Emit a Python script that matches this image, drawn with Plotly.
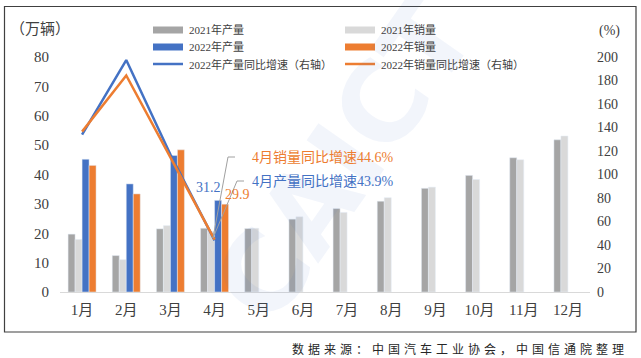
import plotly.graph_objects as go

months = ["1月", "2月", "3月", "4月", "5月", "6月", "7月", "8月", "9月", "10月", "11月", "12月"]
prod_2021 = [19.7, 12.4, 21.5, 21.7, 21.6, 24.8, 28.4, 30.9, 35.3, 39.7, 45.7, 51.8]
sales_2021 = [17.9, 11.0, 22.6, 20.6, 21.7, 25.6, 27.1, 32.1, 35.7, 38.3, 45.0, 53.1]
prod_2022 = [45.2, 36.8, 46.5, 31.2, None, None, None, None, None, None, None, None]
sales_2022 = [43.1, 33.4, 48.4, 29.9, None, None, None, None, None, None, None, None]
prod_growth = [134.0, 197.4, 117.0, 43.9]
sales_growth = [136.5, 184.3, 114.5, 44.6]
left_ticks = [0, 10, 20, 30, 40, 50, 60, 70, 80]
right_ticks = [0, 20, 40, 60, 80, 100, 120, 140, 160, 180, 200]

C_DG = "#a5a5a5"
C_LG = "#d9d9d9"
C_BL = "#4472c4"
C_OR = "#ed7d31"

FONT = "Liberation Serif, Noto Sans CJK SC, serif"
CJK = "Noto Sans CJK SC, sans-serif"

fig = go.Figure()
fig.add_bar(x=months, y=prod_2021, marker_color=C_DG, name="2021年产量")
fig.add_bar(x=months, y=sales_2021, marker_color=C_LG, name="2021年销量")
fig.add_bar(x=months, y=prod_2022, marker_color=C_BL, name="2022年产量")
fig.add_bar(x=months, y=sales_2022, marker_color=C_OR, name="2022年销量")
fig.add_scatter(x=months[:4], y=prod_growth, yaxis="y2", mode="lines",
                line=dict(color=C_BL, width=2.5), name="2022年产量同比增速（右轴）", cliponaxis=False)
fig.add_scatter(x=months[:4], y=sales_growth, yaxis="y2", mode="lines",
                line=dict(color=C_OR, width=2.5), name="2022年销量同比增速（右轴）", cliponaxis=False)

L, R, T, B = 60, 51, 57, 66
W, H = 641, 358
pw, ph = W - L - R, H - T - B

def px(x):
    return (x - L) / pw

def py(y):
    return (H - B - y) / ph

shapes = []
annotations = []

# outer frame
shapes.append(dict(type="rect", xref="paper", yref="paper", x0=px(4.5), x1=px(636), y0=py(332), y1=py(6.5),
                   line=dict(color="#404040", width=1.2), fillcolor="rgba(0,0,0,0)", layer="above"))

# watermark
annotations.append(dict(xref="paper", yref="paper", x=px(185), y=py(160), text="<b>CAICT</b>", showarrow=False,
                        textangle=-55, font=dict(family="DejaVu Sans, sans-serif", size=110, color="rgba(68,114,196,0.07)")))

# custom legend
legend_items = [
    (153, 30, "bar", C_DG, "2021年产量"),
    (153, 47, "bar", C_BL, "2022年产量"),
    (153, 64, "line", C_BL, "2022年产量同比增速（右轴）"),
    (345, 30, "bar", C_LG, "2021年销量"),
    (345, 47, "bar", C_OR, "2022年销量"),
    (345, 64, "line", C_OR, "2022年销量同比增速（右轴）"),
]
for x0, yc, kind, col, label in legend_items:
    if kind == "bar":
        shapes.append(dict(type="rect", xref="paper", yref="paper", x0=px(x0), x1=px(x0 + 30),
                           y0=py(yc + 3.5), y1=py(yc - 3.5), fillcolor=col, line=dict(width=0)))
    else:
        shapes.append(dict(type="line", xref="paper", yref="paper", x0=px(x0), x1=px(x0 + 30),
                           y0=py(yc), y1=py(yc), line=dict(color=col, width=2.5)))
    annotations.append(dict(xref="paper", yref="paper", x=px(x0 + 34), y=py(yc), text=label, showarrow=False,
                            xanchor="left", yanchor="middle", font=dict(family=FONT, size=11, color="#404040")))

# axis titles
annotations.append(dict(xref="paper", yref="paper", x=px(40), y=py(29), text="（万辆）", showarrow=False,
                        xanchor="center", yanchor="middle", font=dict(family=FONT, size=15, color="#404040")))
annotations.append(dict(xref="paper", yref="paper", x=px(609), y=py(31), text="(%)", showarrow=False,
                        xanchor="center", yanchor="middle", font=dict(family=FONT, size=14, color="#404040")))

# data labels for April bars
annotations.append(dict(x="4月", y=prod_2022[3], text=f"{prod_2022[3]}", showarrow=False, xshift=-6, yshift=13,
                        font=dict(family=FONT, size=14, color=C_BL)))
annotations.append(dict(x="4月", y=sales_2022[3], text=f"{sales_2022[3]}", showarrow=False, xshift=23, yshift=10,
                        font=dict(family=FONT, size=14, color=C_OR)))

# callout texts
annotations.append(dict(xref="paper", yref="paper", x=px(250), y=py(157), text=f"4月销量同比增速{sales_growth[3]}%",
                        showarrow=False, xanchor="left", yanchor="middle", font=dict(family=FONT, size=14, color=C_OR)))
annotations.append(dict(xref="paper", yref="paper", x=px(250), y=py(181), text=f"4月产量同比增速{prod_growth[3]}%",
                        showarrow=False, xanchor="left", yanchor="middle", font=dict(family=FONT, size=14, color=C_BL)))
# leader lines
for pts in ([(213, 238), (228, 157), (235, 157)], [(213, 238), (237, 181), (244, 181)]):
    for (xa, ya), (xb, yb) in zip(pts[:-1], pts[1:]):
        shapes.append(dict(type="line", xref="paper", yref="paper", x0=px(xa), y0=py(ya), x1=px(xb), y1=py(yb),
                           line=dict(color="#a0a0a0", width=1)))

# source note
src = "数据来源：中国汽车工业协会，中国信通院整理"
annotations.append(dict(xref="paper", yref="paper", x=px(626), y=py(348), text="\u2004".join(src), showarrow=False,
                        xanchor="right", yanchor="middle", font=dict(family=CJK, size=12, color="#262626")))

fig.update_layout(
    width=W, height=H,
    margin=dict(l=L, r=R, t=T, b=B),
    paper_bgcolor="white", plot_bgcolor="white",
    barmode="group", bargap=0.366, bargroupgap=0,
    showlegend=False,
    font=dict(family=FONT, color="#404040"),
    xaxis=dict(showline=True, linecolor="#d9d9d9", linewidth=1, ticks="", showgrid=False,
               tickfont=dict(family=FONT, size=15, color="#404040"), ticklabelstandoff=4),
    yaxis=dict(range=[0, 80], tickvals=left_ticks, showgrid=False, zeroline=False, showline=False,
               tickfont=dict(family=FONT, size=15, color="#404040"), ticklabelstandoff=10),
    yaxis2=dict(range=[0, 200], tickvals=right_ticks, overlaying="y", side="right", showgrid=False,
                zeroline=False, showline=False, tickfont=dict(family=FONT, size=14, color="#404040"),
                ticklabelstandoff=6),
    shapes=shapes,
    annotations=annotations,
)

fig.write_html("out.html", config={"displayModeBar": False},
               post_script="document.body.style.margin='0';document.body.style.overflow='hidden';")
